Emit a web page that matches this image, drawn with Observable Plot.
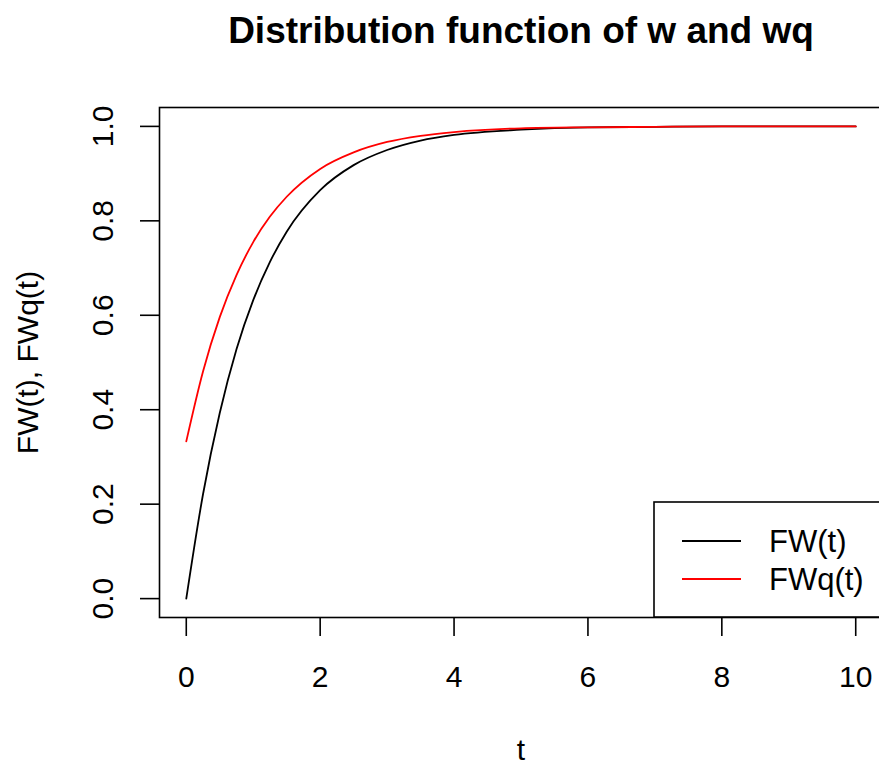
<!DOCTYPE html>
<html>
<head>
<meta charset="utf-8">
<script src="https://cdn.jsdelivr.net/npm/d3@7"></script>
<script src="https://cdn.jsdelivr.net/npm/@observablehq/plot@0.6"></script>
<style>
  html, body { margin: 0; padding: 0; background: #fff; }
  #chart { width: 879px; height: 765px; overflow: hidden; }
</style>
</head>
<body>
<div id="chart"></div>
<script>
// Values
const tValues   = [0, 0.25, 0.5, 0.75, 1, 1.25, 1.5, 2, 2.5, 3, 3.5, 4, 5, 6, 7, 8, 10];
const fwValues  = [0, 0.221, 0.393, 0.528, 0.632, 0.713, 0.777, 0.865, 0.918, 0.950, 0.970, 0.982, 0.993, 0.998, 0.999, 1.0, 1.0];
const fwqValues = [0.333, 0.481, 0.596, 0.685, 0.755, 0.809, 0.851, 0.910, 0.945, 0.967, 0.980, 0.988, 0.996, 0.998, 0.999, 1.0, 1.0];
const xTicks = [0, 2, 4, 6, 8, 10];
const yTicks = [0, 0.2, 0.4, 0.6, 0.8, 1.0];
const seriesNames = ["FW(t)", "FWq(t)"];
const seriesColors = ["black", "red"];
const titleText = "Distribution function of w and wq";
const xLabel = "t";
const yLabel = "FW(t), FWq(t)";

const fwData = tValues.map((t, i) => ({t, v: fwValues[i]}));
const fwqData = tValues.map((t, i) => ({t, v: fwqValues[i]}));

const font = "'Liberation Sans', Arial, Helvetica, sans-serif";

const plot = Plot.plot({
  width: 879,
  height: 765,
  marginLeft: 159,
  marginRight: -3,
  marginTop: 107,
  marginBottom: 148,
  style: {fontFamily: font, background: "white", color: "black", overflow: "hidden"},
  x: {domain: [-0.4, 10.4]},
  y: {domain: [-0.04, 1.04]},
  marks: [
    Plot.line(fwData, {x: "t", y: "v", stroke: seriesColors[0], strokeWidth: 1.8, curve: "monotone-x"}),
    Plot.line(fwqData, {x: "t", y: "v", stroke: seriesColors[1], strokeWidth: 1.8, curve: "monotone-x"}),
    Plot.frame({stroke: "black", strokeWidth: 1.6}),
    Plot.axisX({ticks: xTicks, tickSize: 19, tickPadding: 29, fontSize: 30, label: null, strokeWidth: 1.6, tickFormat: d => String(d)}),
    Plot.axisY({ticks: yTicks, tickSize: 19, label: null, strokeWidth: 1.6, tickFormat: () => ""}),
    Plot.text(yTicks, {y: d => d, text: d => d.toFixed(1), frameAnchor: "left", dx: -56.5, rotate: -90, fontSize: 30, textAnchor: "middle", lineAnchor: "middle"}),
    Plot.text([titleText], {frameAnchor: "top", dy: -76.5, fontSize: 37, fontWeight: "bold", textAnchor: "middle", lineAnchor: "middle"}),
    Plot.text([xLabel], {frameAnchor: "bottom", dy: 133, fontSize: 30, textAnchor: "middle", lineAnchor: "middle"}),
    Plot.text([yLabel], {frameAnchor: "left", dx: -131, rotate: -90, fontSize: 30, textAnchor: "middle", lineAnchor: "middle"})
  ]
});

// Legend (bottom-right, as in the reference)
const svg = d3.select(plot);
const lg = svg.append("g").attr("font-family", font).attr("text-anchor", "start");
lg.append("rect").attr("x", 654).attr("y", 502).attr("width", 300).attr("height", 115)
  .attr("fill", "white").attr("stroke", "black").attr("stroke-width", 1.6);
const rowsY = [541, 579];
const baseY = [552, 590];
seriesNames.forEach((name, i) => {
  lg.append("line").attr("x1", 682).attr("x2", 741).attr("y1", rowsY[i]).attr("y2", rowsY[i])
    .attr("stroke", seriesColors[i]).attr("stroke-width", 1.8);
  lg.append("text").attr("x", 769).attr("y", baseY[i]).attr("text-anchor", "start")
    .style("font-size", "31px").attr("fill", "black").text(name);
});

document.getElementById("chart").appendChild(plot);
</script>
</body>
</html>
